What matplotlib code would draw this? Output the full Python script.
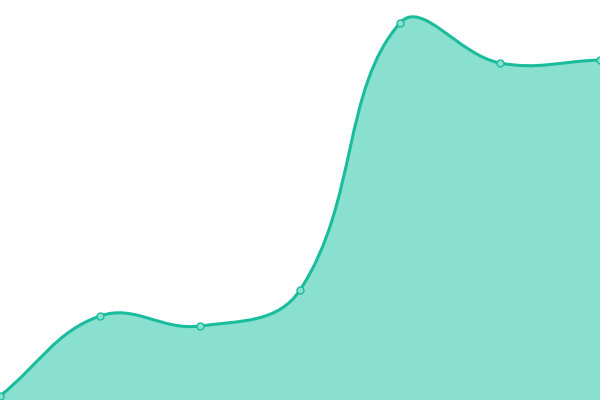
import matplotlib
matplotlib.use("Agg")
import matplotlib.pyplot as plt
from matplotlib.path import Path
from matplotlib.patches import PathPatch

# data (x positions and values, bottom = 0, top = 400)
xs = [0, 100, 200, 300, 400, 500, 600]
values = [4, 84, 74, 110, 377, 337, 340]

line_color = "#1abc9c"
fill_color = "#8ae0cf"
tension = 0.4


def control_points(px, py, t):
    # chart.js style spline control points
    n = len(px)
    ctrl = []
    for i in range(n):
        x0, y0 = (px[i - 1], py[i - 1]) if i > 0 else (px[i], py[i])
        x1, y1 = px[i], py[i]
        x2, y2 = (px[i + 1], py[i + 1]) if i < n - 1 else (px[i], py[i])
        d01 = ((x1 - x0) ** 2 + (y1 - y0) ** 2) ** 0.5
        d12 = ((x2 - x1) ** 2 + (y2 - y1) ** 2) ** 0.5
        tot = d01 + d12
        s01 = d01 / tot if tot else 0
        s12 = d12 / tot if tot else 0
        fa = t * s01
        fb = t * s12
        prev = (x1 - fa * (x2 - x0), y1 - fa * (y2 - y0))
        nxt = (x1 + fb * (x2 - x0), y1 + fb * (y2 - y0))
        ctrl.append((prev, nxt))
    return ctrl


ctrl = control_points(xs, values, tension)

verts = [(xs[0], values[0])]
codes = [Path.MOVETO]
for i in range(1, len(xs)):
    verts += [ctrl[i - 1][1], ctrl[i][0], (xs[i], values[i])]
    codes += [Path.CURVE4] * 3

fill_verts = verts + [(xs[-1], 0), (xs[0], 0), (xs[0], values[0])]
fill_codes = codes + [Path.LINETO, Path.LINETO, Path.CLOSEPOLY]

fig = plt.figure(figsize=(6, 4), dpi=100)
ax = fig.add_axes([0, 0, 1, 1])
ax.add_patch(PathPatch(Path(fill_verts, fill_codes), facecolor=fill_color,
                       edgecolor="none"))
ax.add_patch(PathPatch(Path(verts, codes), facecolor="none",
                       edgecolor=line_color, lw=2.2, capstyle="round"))
ax.plot(xs, values, "o", ms=5, mfc=fill_color, mec=line_color, mew=1,
        clip_on=False)
ax.set_xlim(0, 600)
ax.set_ylim(0, 400)
ax.axis("off")
fig.savefig("out.png", dpi=100)
